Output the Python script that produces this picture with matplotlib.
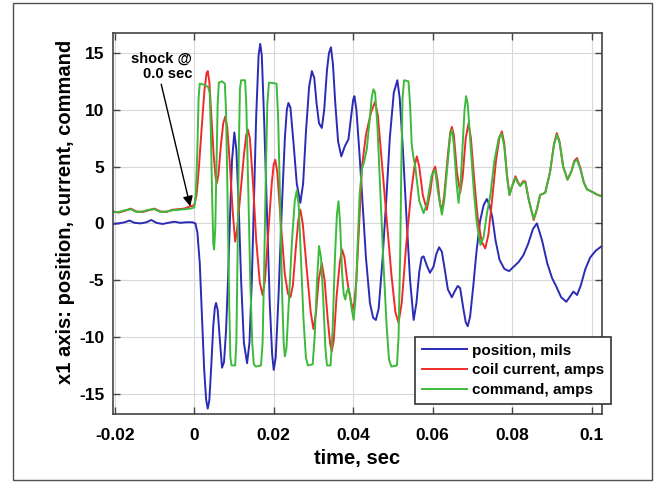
import matplotlib
matplotlib.use("Agg")
import matplotlib.pyplot as plt
import numpy as np
from matplotlib.patches import Rectangle

plt.rcParams["font.family"] = ["Liberation Sans", "DejaVu Sans"]
plt.rcParams["font.weight"] = "bold"
plt.rcParams["axes.unicode_minus"] = False

# ---- data (time in ms, values in mils / amps) ----
pos_t = [-20.5, -19.0, -17.5, -16.3, -15.0, -13.5, -12.0, -10.8, -9.5, -8.0, -6.5, -5.0, -3.5,
         -2.0, -0.5, 0.3, 0.8, 1.4, 2.0, 2.5, 3.0, 3.4, 3.8, 4.3, 4.8, 5.2, 5.5, 5.9, 6.4,
         7.0, 7.5, 8.0, 8.5, 9.0, 9.5, 10.1, 10.6, 11.2, 11.8, 12.5, 13.3, 13.9, 14.5, 15.0,
         15.6, 16.2, 16.6, 17.0, 17.6, 18.3, 19.0, 19.6, 20.0, 20.5, 21.2, 22.0, 22.8, 23.3,
         23.7, 24.2, 25.0, 25.8, 26.7, 27.4, 28.1, 28.9, 29.6, 30.2, 30.8, 31.4, 32.1, 32.7,
         33.4, 33.9, 34.4, 34.9, 35.5, 36.2, 37.0, 37.9, 38.8, 39.5, 40.0, 40.3, 40.8, 41.6,
         42.4, 43.2, 44.2, 45.0, 45.7, 46.4, 47.3, 48.3, 49.2, 50.2, 51.1, 51.7, 52.5, 53.4,
         54.3, 55.2, 55.9, 56.6, 57.2, 57.7, 58.5, 59.3, 60.2, 60.9, 61.6, 62.3, 63.0, 63.8,
         64.8, 65.5, 66.3, 66.9, 67.7, 68.3, 68.8, 69.4, 70.2, 71.0, 71.9, 72.8, 73.6, 74.3,
         75.0, 75.8, 76.8, 78.0, 79.2, 80.4, 81.6, 82.8, 84.0, 85.2, 86.2, 87.5, 88.8, 90.0,
         91.0, 92.3, 93.6, 94.6, 95.4, 96.3, 97.2, 98.4, 99.6, 101.0, 102.5]
pos_v = [-0.05, 0.0, 0.1, 0.25, 0.05, 0.0, 0.1, 0.3, 0.05, -0.05, 0.05, 0.15, 0.05,
         0.1, 0.1, 0.0, -0.8, -3.5, -8.5, -12.8, -15.5, -16.3, -15.6, -12.5, -9.0, -7.4, -7.0, -7.6, -10.0,
         -12.7, -12.2, -9.5, -5.0, 0.5, 5.5, 8.0, 6.5, 1.5, -5.0, -10.5, -12.3, -10.5, -5.0, 1.5,
         9.5, 14.8, 15.8, 14.8, 9.0, 1.0, -7.0, -11.5, -12.9, -11.8, -6.5, 1.0, 7.5, 10.0,
         10.6, 10.2, 7.0, 3.5, 1.8, 3.5, 8.0, 12.0, 13.4, 12.8, 10.5, 8.8, 8.4, 10.0,
         13.5, 15.0, 15.5, 14.0, 10.5, 7.2, 5.9, 6.8, 7.4, 9.5, 10.9, 11.2, 10.0, 6.0,
         1.5, -3.0, -7.0, -8.3, -8.5, -7.5, -3.5, 2.0, 7.5, 11.5, 12.6, 11.0, 6.5, 0.5,
         -5.0, -8.5, -7.0, -4.3, -3.0, -2.9, -3.7, -4.35, -3.8, -2.7, -2.1, -2.5, -4.0, -5.8,
         -6.5, -6.0, -5.5, -5.7, -7.5, -8.7, -9.05, -8.2, -5.5, -2.5, 0.2, 1.6, 2.15, 1.6,
         0.5, -1.5, -3.2, -4.0, -4.2, -3.8, -3.4, -2.8, -1.8, -0.5, 0.0, -1.5, -3.5, -4.8,
         -5.5, -6.5, -6.9, -6.4, -6.0, -6.3, -5.5, -4.0, -3.0, -2.4, -2.0]

coil_t = [-20.5, -19.0, -17.5, -16.0, -14.5, -13.0, -11.5, -10.0, -8.5, -7.0, -5.5, -4.0, -2.5,
          -1.0, 0.0, 0.6, 1.2, 1.9, 2.6, 3.1, 3.4, 3.8, 4.3, 4.9, 5.4, 5.7, 6.1, 6.7, 7.3,
          7.8, 8.3, 9.0, 9.7, 10.3, 10.8, 11.6, 12.5, 13.1, 13.5, 14.0, 14.8, 15.6, 16.5,
          17.2, 17.8, 18.6, 19.5, 20.0, 20.4, 20.9, 21.8, 22.8, 23.6, 24.2, 24.8, 25.6, 26.2,
          26.7, 27.3, 28.3, 29.3, 30.0, 30.6, 31.3, 32.1, 32.8, 33.6, 34.2, 34.6, 35.1, 35.8,
          36.6, 37.2, 37.8, 38.4, 38.8, 39.5, 40.1, 40.8, 41.5, 42.2, 43.2, 44.5, 45.5, 46.2,
          47.3, 48.5, 49.6, 50.6, 51.4, 52.2, 53.3, 54.5, 55.4, 56.0, 56.6, 57.5, 58.5, 59.4,
          60.0, 60.6, 61.2, 61.8, 62.3, 62.9, 63.8, 64.4, 64.8, 65.3, 66.1, 66.9, 67.5, 68.3,
          69.0, 69.6, 70.4, 71.3, 72.3, 73.2, 74.0, 74.9, 75.9, 76.8, 77.4, 78.0, 78.7, 79.3,
          79.9, 80.8, 81.5, 82.0, 82.7, 83.3, 84.2, 85.4, 86.2, 87.0, 88.3, 89.5, 90.5, 91.2,
          91.9, 92.8, 93.9, 94.9, 95.6, 96.3, 97.2, 98.0, 98.8, 100.5, 101.5, 102.5]
coil_v = [1.05, 0.95, 1.1, 1.3, 1.05, 1.0, 1.15, 1.3, 1.05, 1.0, 1.2, 1.25, 1.3,
          1.5, 1.6, 2.5, 5.0, 8.5, 11.8, 13.2, 13.4, 12.5, 9.5, 6.0, 4.0, 3.55, 4.3, 6.8, 8.8,
          9.4, 8.5, 5.0, 1.0, -1.6, -0.5, 2.5, 6.0, 7.8, 8.25, 7.5, 3.5, -1.5, -5.2,
          -6.3, -5.0, -1.0, 3.5, 5.2, 5.6, 4.5, 0.0, -4.5, -6.2, -6.5, -5.5, -2.0, 0.3,
          1.2, 0.0, -4.0, -7.8, -9.3, -8.0, -5.0, -3.5, -5.0, -8.5, -10.6, -11.25, -10.3, -6.5,
          -3.5, -2.3, -3.0, -4.8, -5.7, -7.0, -7.6, -5.0, 0.0, 5.0, 7.8, 9.8, 10.7, 9.5,
          5.0, 0.0, -4.5, -7.8, -8.75, -7.0, -2.0, 2.5, 5.0, 5.9, 5.0, 2.5, 1.2, 2.8,
          4.5, 5.0, 3.8, 1.8, 1.06, 2.5, 6.0, 8.0, 8.5, 7.8, 4.5, 2.7, 4.0, 7.5,
          8.8, 7.5, 4.0, 0.5, -1.6, -2.2, -1.0, 2.0, 5.5, 7.6, 8.1, 7.0, 4.2, 2.5,
          3.2, 4.15, 3.6, 3.3, 3.7, 3.7, 2.0, 0.3, 1.2, 2.5, 2.7, 4.5, 7.0, 7.95,
          7.2, 5.0, 3.85, 4.6, 5.5, 5.75, 4.8, 3.6, 3.0, 2.7, 2.5, 2.4]

cmd_t = [-20.5, -19.0, -17.5, -16.0, -14.5, -13.0, -11.5, -10.0, -8.5, -7.0, -5.5, -4.0, -2.5,
         -1.0, 0.0, 0.4, 0.8, 1.1, 1.4, 2.5, 3.5, 3.9, 4.2, 4.5, 4.8, 5.0, 5.3, 5.6, 5.9,
         6.2, 7.0, 7.7, 8.0, 8.4, 8.8, 9.1, 9.4, 10.3, 10.6, 10.9, 11.2, 11.5, 11.8, 12.8,
         13.1, 13.6, 14.1, 14.6, 15.0, 15.5, 16.8, 17.2, 17.6, 18.0, 18.4, 18.8, 20.7, 21.1,
         21.6, 22.1, 22.5, 22.8, 23.2, 23.8, 24.6, 25.3, 25.8, 26.3, 26.9, 27.5, 28.1, 28.6,
         29.8, 30.3, 30.9, 31.4, 31.9, 32.5, 33.0, 33.4, 34.3, 34.8, 35.4, 35.9, 36.3, 36.7,
         37.2, 37.6, 38.0, 38.4, 38.8, 39.2, 39.6, 40.1, 40.6, 41.1, 41.6, 42.2, 42.8, 43.4,
         44.1, 44.7, 45.1, 45.5, 46.1, 46.8, 47.6, 48.4, 49.0, 49.6, 51.0, 51.4, 51.8, 52.1,
         52.4, 52.8, 53.9, 54.3, 54.7, 55.1, 55.6, 56.6, 57.7, 58.6, 59.7, 60.6, 61.3, 62.3,
         62.9, 63.8, 64.4, 64.8, 65.3, 66.0, 66.5, 67.0, 67.6, 68.0, 68.4, 68.8, 69.5, 70.3,
         71.1, 72.0, 72.8, 73.6, 74.5, 75.5, 76.6, 77.3, 78.0, 78.7, 79.3, 79.9, 80.8, 81.5,
         82.0, 82.7, 83.3, 84.2, 85.4, 86.2, 87.0, 88.3, 89.5, 90.5, 91.2, 91.9, 92.8, 93.9,
         94.9, 95.6, 96.3, 97.2, 98.0, 98.8, 100.5, 101.5, 102.5]
cmd_v = [1.0, 1.0, 1.15, 1.25, 1.0, 1.05, 1.2, 1.25, 1.0, 1.05, 1.15, 1.2, 1.25,
         1.3, 1.4, 2.5, 6.5, 11.0, 12.3, 12.2, 12.0, 11.5, 8.0, 2.5, -1.8, -2.3, -0.5, 5.0, 10.5,
         12.4, 12.5, 12.3, 10.0, 2.0, -7.0, -11.8, -12.5, -12.5, -10.5, -3.0, 6.0, 11.8, 12.6, 12.6,
         10.5, 3.0, -5.0, -10.5, -12.4, -12.6, -12.5, -10.5, -4.0, 4.0, 10.5, 12.4, 12.3, 9.5,
         2.0, -6.0, -10.5, -11.7, -11.0, -7.0, -1.5, 2.0, 2.9, 1.5, -3.5, -8.5, -11.8, -12.5,
         -12.4, -10.0, -5.0, -2.0, -3.0, -7.0, -11.0, -12.5, -12.5, -9.5, -3.0, 0.8, 1.95, 0.0,
         -4.35, -6.2, -6.7, -6.0, -5.7, -6.3, -7.5, -8.5, -6.5, -2.0, 2.5, 4.8, 5.5, 6.5,
         9.0, 11.2, 11.8, 11.5, 8.5, 3.0, -3.5, -9.0, -12.0, -12.6, -12.5, -10.0, -3.0, 5.0,
         11.0, 12.6, 12.5, 10.5, 7.0, 5.9, 5.0, 2.0, 0.9, 1.8, 4.2, 4.7, 2.8, 0.77,
         2.0, 5.5, 7.8, 8.25, 7.0, 3.5, 1.8, 3.5, 7.5, 10.0, 11.2, 10.5, 7.0, 3.0,
         0.0, -1.9, -1.2, 0.8, 2.5, 5.5, 7.5, 7.9, 6.8, 4.0, 2.5, 3.2, 4.0, 3.5,
         3.3, 3.6, 3.6, 2.0, 0.4, 1.3, 2.5, 2.7, 4.5, 6.9, 7.8, 7.1, 5.0, 3.85,
         4.6, 5.4, 5.6, 4.7, 3.6, 3.0, 2.7, 2.5, 2.4]

labels = ["position, mils", "coil current, amps", "command, amps"]
colors = ["#2b2bb5", "#f02a2a", "#3cba3c"]

x_ticks = [-0.02, 0.0, 0.02, 0.04, 0.06, 0.08, 0.1]
x_tick_labels = ["-0.02", "0", "0.02", "0.04", "0.06", "0.08", "0.1"]
y_ticks = [-15, -10, -5, 0, 5, 10, 15]

W, H = 656, 482
fig = plt.figure(figsize=(W / 100, H / 100), dpi=100)
fig.patches.append(Rectangle((12.5 / W, 2 / H), 639.5 / W, 477.5 / H,
                             transform=fig.transFigure, fill=False,
                             edgecolor="#505050", lw=1.0))

ax = fig.add_axes([112.7 / W, 1 - 414.3 / H, 489 / W, 381.8 / H])

for t, v, lab, c in zip([pos_t, coil_t, cmd_t], [pos_v, coil_v, cmd_v], labels, colors):
    ax.plot(np.array(t) / 1000.0, v, color=c, lw=1.4, label=lab,
            solid_joinstyle="round")

ax.set_xlim(-0.0205, 0.1025)
ax.set_ylim(-16.8, 16.8)
ax.set_xticks(x_ticks)
ax.set_xticklabels(x_tick_labels)
ax.set_yticks(y_ticks)
ax.grid(True, color="#d8d8d8", lw=0.8)
ax.set_axisbelow(True)
ax.tick_params(direction="in", length=5, width=1.0, color="#444444",
               top=True, right=True, labelsize=12.5)
ax.tick_params(axis="x", pad=10)
ax.tick_params(axis="y", pad=6)
for s in ax.spines.values():
    s.set_color("#444444")
    s.set_linewidth(1.2)

ax.set_xlabel("time, sec", fontsize=14.5, fontweight="bold", labelpad=4)
ax.set_ylabel("x1 axis: position, current, command", fontsize=14.5,
              fontweight="bold")
ax.yaxis.set_label_coords(-0.077, 0.531)

ax.annotate("shock @\n0.0 sec", xy=(-0.001, 1.5), xytext=(-0.0005, 13.8),
            ha="right", va="center", fontsize=10.5, fontweight="bold",
            multialignment="right", linespacing=1.15,
            arrowprops=dict(arrowstyle="-|>", color="black", lw=1.0,
                            mutation_scale=15, shrinkA=0, shrinkB=0,
                            relpos=(0.48, 0.0)))

leg = ax.legend(loc="lower right", bbox_to_anchor=(611 / W, 1 - 404 / H),
                bbox_transform=fig.transFigure, fontsize=11, frameon=True,
                fancybox=False, framealpha=1, edgecolor="#333333",
                handlelength=3.0, handletextpad=0.3, borderpad=0.45,
                labelspacing=0.38, borderaxespad=0)
leg.get_frame().set_linewidth(1.2)

fig.savefig("out.png", dpi=100)
